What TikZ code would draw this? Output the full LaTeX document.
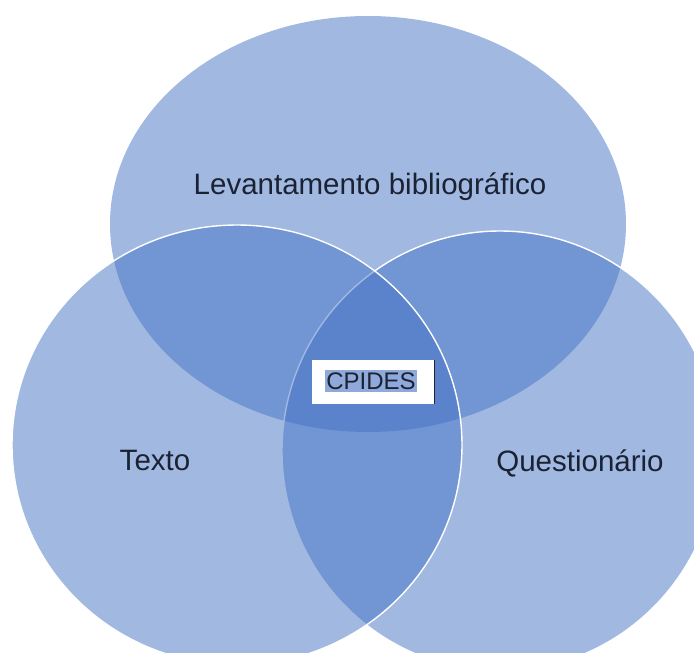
\documentclass[tikz,border=0pt]{standalone}
\usepackage{fontspec}
\setmainfont{Liberation Sans}
\definecolor{vennblue}{HTML}{4472C4}
\definecolor{txt}{HTML}{1B2233}
\definecolor{hilite}{HTML}{8FA9DA}
\begin{document}
\begin{tikzpicture}[x=1pt,y=-1pt,
  venn/.style={fill=vennblue,fill opacity=0.5,draw opacity=1},
  vennedge/.style={venn,draw=white,line width=1.4pt},
  lab/.style={text=txt,font=\fontsize{29.5}{32}\selectfont,inner sep=0pt}]
\useasboundingbox (0,0) rectangle (694,653);
\clip (0,0) rectangle (694,653);
% circles
\fill[venn] (368,224) ellipse [x radius=258, y radius=208];
\draw[vennedge] (500,451) ellipse [x radius=218, y radius=220];
\draw[vennedge] (237,445) ellipse [x radius=225, y radius=220];
% labels
\node[lab] (lev) at (370,187) {Levantamento bibliográfico};
\node[lab] (tex) at (155,460) {Texto};
\node[lab] (que) at (580,463) {Questionário};
% CPIDES box
\node[fill=white,minimum width=122pt,minimum height=44pt,inner sep=0pt] (box) at (373,382) {};
\draw[txt,line width=1.2pt] (box.north east) -- (box.south east);
\node[fill=hilite,text=txt,font=\fontsize{24}{27}\selectfont,inner xsep=1pt,inner ysep=3pt] (cp) at (371,381) {CPIDES};
\end{tikzpicture}
\end{document}
